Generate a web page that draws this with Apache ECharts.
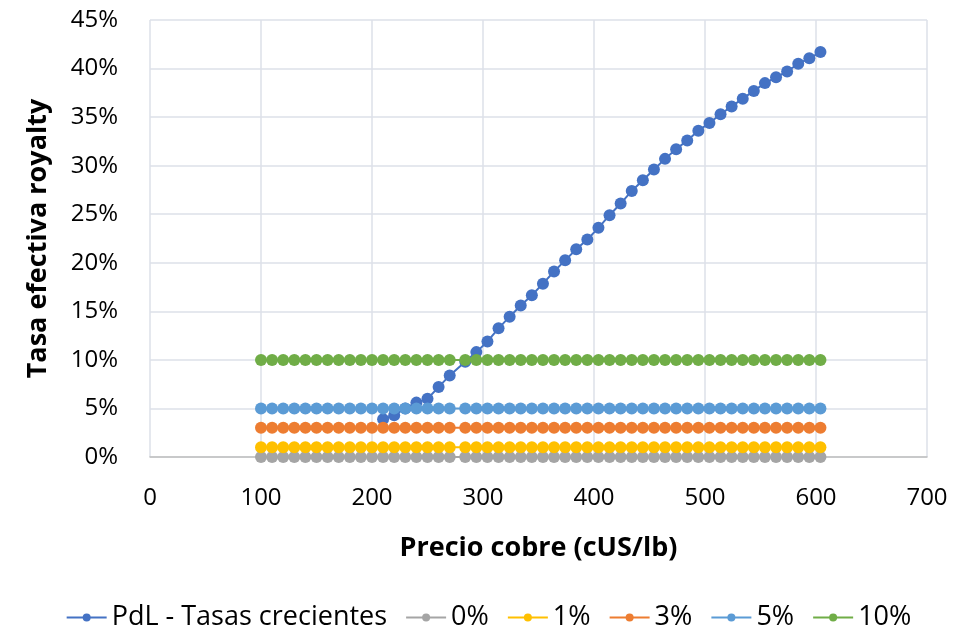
<!DOCTYPE html>
<html>
<head>
<meta charset="utf-8">
<script src="https://cdn.jsdelivr.net/npm/echarts@6/dist/echarts.min.js"></script>
<style>html,body{margin:0;padding:0;background:#fff}#c{width:977px;height:633px}</style>
</head>
<body>
<div id="c"></div>
<script>
// Shared x values of the flat-rate series (cUS/lb)
const xFlat = [100,110,120,130,140,150,160,170,180,190,200,210,220,230,240,250,260,270,
  284,294,304,314,324,334,344,354,364,374,384,394,404,414,424,434,444,454,464,474,484,494,504,514,524,534,544,554,564,574,584,594,604];
// PdL - Tasas crecientes
const xPdL = [210,220,230,240,250,260,270,
  284,294,304,314,324,334,344,354,364,374,384,394,404,414,424,434,444,454,464,474,484,494,504,514,524,534,544,554,564,574,584,594,604];
const yPdL = [3.9,4.3,5.0,5.6,6.0,7.2,8.4,
  9.8,10.8,11.9,13.25,14.45,15.6,16.65,17.85,19.1,20.25,21.4,22.4,23.6,24.9,26.1,27.4,28.5,29.6,30.7,31.7,32.6,33.6,34.4,35.3,36.1,36.9,37.7,38.5,39.1,39.7,40.5,41.05,41.7];
const flatRates = [0,1,3,5,10]; // %
const seriesNames = ['PdL - Tasas crecientes','0%','1%','3%','5%','10%'];
const colors = ['#4472C4','#A5A5A5','#FFC000','#ED7D31','#5B9BD5','#70AD47'];
const xTicks = [0,100,200,300,400,500,600,700];
const yTicks = [0,5,10,15,20,25,30,35,40,45];

const FONT = '"Open Sans", sans-serif';
const series = [];
series.push({
  name: seriesNames[0], type: 'line',
  data: xPdL.map((x,i)=>[x, yPdL[i]/100]),
  color: colors[0], symbol:'circle', symbolSize:12,
  lineStyle:{width:2}, itemStyle:{color:colors[0]}
});
flatRates.forEach((r,k)=>{
  series.push({
    name: seriesNames[k+1], type:'line',
    data: xFlat.map(x=>[x, r/100]),
    color: colors[k+1], symbol:'circle', symbolSize:12,
    lineStyle:{width:2}, itemStyle:{color:colors[k+1]}
  });
});

const chart = echarts.init(document.getElementById('c'));
chart.setOption({
  animation:false,
  backgroundColor:'#fff',
  textStyle:{fontFamily:FONT},
  grid:{left:150, right:50, top:20, bottom:176},
  legend:{
    top:599, left:'center', itemWidth:40, itemHeight:10, itemGap:18,
    textStyle:{fontSize:27, color:'#000', fontFamily:FONT},
    data: seriesNames
  },
  xAxis:{
    type:'value', min:xTicks[0], max:xTicks[xTicks.length-1], interval:100,
    name:'Precio cobre (cUS/lb)', nameLocation:'middle', nameGap:78,
    nameTextStyle:{fontSize:27, fontWeight:'bold', color:'#000', fontFamily:FONT},
    axisLine:{show:true, lineStyle:{color:'#BFBFBF', width:1.5}},
    axisTick:{show:false},
    axisLabel:{fontSize:24, color:'#000', margin:29, fontFamily:FONT},
    splitLine:{show:true, lineStyle:{color:'#DDE1E8', width:1.5}}
  },
  yAxis:{
    type:'value', min:0, max:0.45, interval:0.05,
    name:'Tasa efectiva royalty', nameLocation:'middle', nameGap:98,
    nameTextStyle:{fontSize:27, fontWeight:'bold', color:'#000', fontFamily:FONT},
    axisLine:{show:false}, axisTick:{show:false},
    axisLabel:{fontSize:24, color:'#000', margin:32, fontFamily:FONT,
      formatter:v=>Math.round(v*100)+'%'},
    splitLine:{show:true, lineStyle:{color:'#DDE1E8', width:1.5}}
  },
  series: series
});
</script>
</body>
</html>
